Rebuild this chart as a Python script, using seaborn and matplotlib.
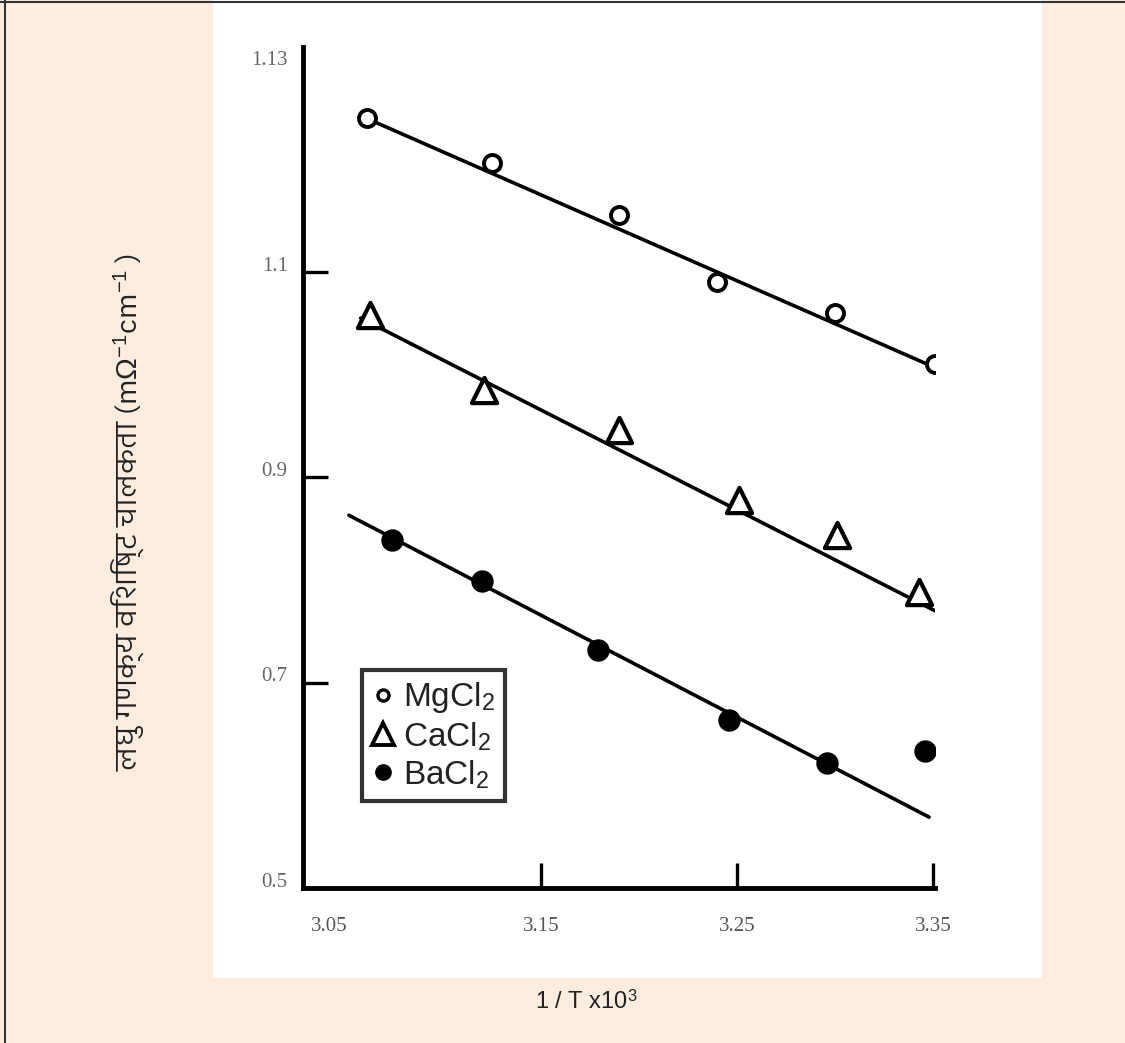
import matplotlib
matplotlib.use("Agg")
import matplotlib.pyplot as plt
import matplotlib.transforms as mtransforms
from matplotlib import font_manager
from matplotlib.ft2font import FT2Font
from matplotlib.lines import Line2D
from matplotlib.patches import Rectangle
import seaborn as sns

# Dados (1/T x10^3 e condutividade)
x_mg = [3.061, 3.125, 3.190, 3.240, 3.300, 3.351]
y_mg = [1.250, 1.206, 1.155, 1.090, 1.060, 1.010]
x_ca = [3.063, 3.121, 3.190, 3.251, 3.301, 3.343]
y_ca = [1.058, 0.985, 0.946, 0.878, 0.844, 0.788]
x_ba = [3.074, 3.120, 3.179, 3.246, 3.296, 3.346]
y_ba = [0.839, 0.799, 0.732, 0.664, 0.622, 0.633]

# Retas ajustadas (extremos)
fit_x_mg = [3.058, 3.352]
fit_y_mg = [1.252, 1.006]
fit_x_ca = [3.058, 3.352]
fit_y_ca = [1.055, 0.769]
fit_x_ba = [3.052, 3.348]
fit_y_ba = [0.863, 0.569]

series = ["MgCl$_2$", "CaCl$_2$", "BaCl$_2$"]
x_ticks = [3.05, 3.15, 3.25, 3.35]
x_tick_labels = ["3.05", "3.15", "3.25", "3.35"]
y_ticks = [0.5, 0.7, 0.9, 1.1, 1.3]
y_tick_labels = ["0.5", "0.7", "0.9", "1.1", "1.13"]

sns.set_style("white")
plt.rcParams["mathtext.fontset"] = "custom"
plt.rcParams["mathtext.rm"] = "Liberation Sans"
plt.rcParams["mathtext.it"] = "Liberation Serif:italic"

# fonte com Devanagari, se existir (prefere "Devanagari" no nome, peso normal)
def peso(f):
    return f.weight if isinstance(f.weight, int) else 400

nomeadas = [f for f in font_manager.fontManager.ttflist
            if "Devanagari" in f.name or "Lohit" in f.name]
deva = None
if nomeadas:
    nomeadas.sort(key=lambda f: (f.style != "normal", abs(peso(f) - 400)))
    deva = nomeadas[0].name
else:
    for f in font_manager.fontManager.ttflist:
        try:
            if 0x091A in FT2Font(f.fname).get_charmap():
                deva = f.name
                break
        except Exception:
            pass
ylab_family = ([deva] if deva else []) + ["Liberation Serif", "DejaVu Sans"]

W, H = 1125, 1043
fig = plt.figure(figsize=(W / 100, H / 100), dpi=100, facecolor="#FDEDE1")

# painel branco e borda
fig.add_artist(Rectangle((213 / W, 1 - 978 / H), (1042 - 213) / W, 978 / H,
                         transform=fig.transFigure, facecolor="white", edgecolor="none", zorder=-5))
fig.add_artist(Line2D([5 / W, 5 / W], [0, 1], transform=fig.transFigure, color="#333333", lw=1.5))
fig.add_artist(Line2D([0, 1], [1 - 1.5 / H, 1 - 1.5 / H], transform=fig.transFigure, color="#333333", lw=1.5))

ax = fig.add_axes([303 / W, 1 - 888 / H, (935 - 303) / W, (888 - 47) / H])
ax.set_facecolor("none")
ax.set_zorder(5)

sns.lineplot(x=fit_x_mg, y=fit_y_mg, ax=ax, color="black", lw=2.6, zorder=2)
sns.lineplot(x=fit_x_ca, y=fit_y_ca, ax=ax, color="black", lw=2.6, zorder=2)
sns.lineplot(x=fit_x_ba, y=fit_y_ba, ax=ax, color="black", lw=2.6, zorder=2)

sns.scatterplot(x=x_mg, y=y_mg, ax=ax, marker="o", s=150, facecolor="white",
                edgecolor="black", linewidth=2.8, zorder=3)
sns.scatterplot(x=x_ca, y=y_ca, ax=ax, marker="^", s=330, facecolor="white",
                edgecolor="black", linewidth=3, zorder=3)
sns.scatterplot(x=x_ba, y=y_ba, ax=ax, marker="o", s=260, facecolor="black",
                edgecolor="black", linewidth=0, zorder=3)

ax.set_xlim(3.0286, 3.351)
ax.set_ylim(0.5, 1.319)

for s in ["top", "right"]:
    ax.spines[s].set_visible(False)
for s in ["left", "bottom"]:
    ax.spines[s].set_linewidth(3.5)
    ax.spines[s].set_color("black")

ax.set_xticks(x_ticks)
ax.set_xticklabels(x_tick_labels, fontsize=15, color="#555555", family="Liberation Serif")
ax.set_yticks(y_ticks)
ax.set_yticklabels(y_tick_labels, fontsize=15, color="#666666", family="Liberation Serif")
ax.tick_params(axis="both", bottom=True, left=True, direction="in", length=18, width=2.4, color="black")
ax.tick_params(axis="x", pad=21)
ax.tick_params(axis="y", pad=11)
ax.xaxis.get_major_ticks()[0].tick1line.set_visible(False)
ax.yaxis.get_major_ticks()[0].tick1line.set_visible(False)
ax.yaxis.get_major_ticks()[-1].tick1line.set_visible(False)
offset = mtransforms.ScaledTranslation(0, 6 / 72, fig.dpi_scale_trans)
for lab in ax.get_yticklabels():
    lab.set_transform(lab.get_transform() + offset)
first = ax.get_xticklabels()[0]
first.set_transform(first.get_transform() + mtransforms.ScaledTranslation(-16 / 100, 0, fig.dpi_scale_trans))

handles = [
    Line2D([], [], ls="none", marker="o", ms=8, mfc="white", mec="black", mew=2.4),
    Line2D([], [], ls="none", marker="^", ms=16, mfc="white", mec="black", mew=2.8),
    Line2D([], [], ls="none", marker="o", ms=11, mfc="black", mec="black"),
]
leg = ax.legend(handles, series, loc="upper left", bbox_to_anchor=(0.093, 0.259),
                frameon=True, fancybox=False, handlelength=0.7, handletextpad=0.25,
                borderpad=0.3, labelspacing=0.15, borderaxespad=0,
                prop={"family": "Liberation Sans", "size": 24})
leg.get_frame().set_edgecolor("black")
leg.get_frame().set_linewidth(3)
for t in leg.get_texts():
    t.set_color("#222222")

fig.text(128 / W, 1 - 512 / H, "लघु गणक्य विशिष्ट चालकता (m$\\Omega^{-1}$cm$^{-1}$ )",
         rotation=90, ha="center", va="center", fontsize=21, style="italic",
         family=ylab_family, color="#222222")
fig.text(586 / W, 1 - 1002 / H, "1 / T x10$^3$", ha="center", va="center",
         fontsize=17, family="Liberation Sans", color="#222222")

fig.savefig("out.png", dpi=100, facecolor=fig.get_facecolor())
